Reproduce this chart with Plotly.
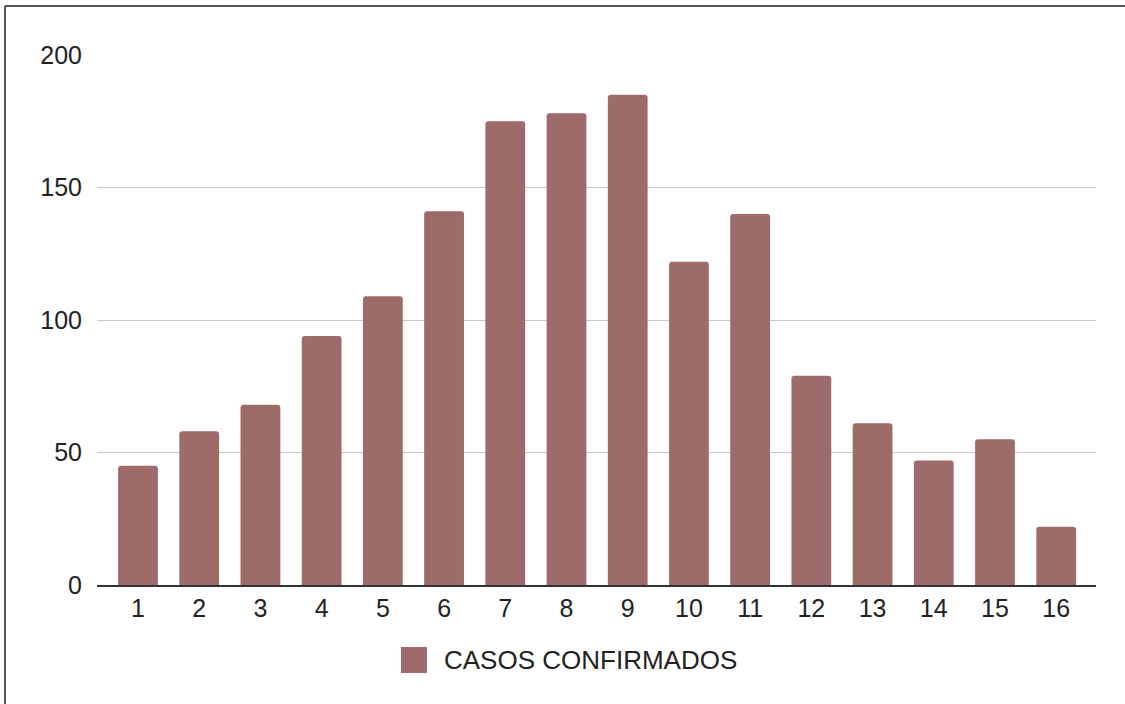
import plotly.graph_objects as go

# Weekly confirmed cases
semanas = list(range(1, 17))
casos = [45, 58, 68, 94, 109, 141, 175, 178, 185, 122, 140, 79, 61, 47, 55, 22]
etiquetas_y = [0, 50, 100, 150, 200]
serie = "CASOS CONFIRMADOS"

COLOR_BARRA = "#9e6b6a"
FUENTE = "Liberation Sans, Arial, sans-serif"

W, H = 1125, 704
ML, MR, MT, MB = 97, 29, 55, 119
PW, PH = W - ML - MR, H - MT - MB


def px_x(p):
    return (p - ML) / PW


def px_y(p):
    return (H - MB - p) / PH


fig = go.Figure()
fig.add_trace(go.Bar(
    x=semanas, y=casos, name=serie,
    marker=dict(color=COLOR_BARRA, line=dict(width=0)),
    width=0.65, showlegend=False,
))

fig.update_layout(
    width=W, height=H,
    margin=dict(l=ML, r=MR, t=MT, b=MB),
    paper_bgcolor="white", plot_bgcolor="white",
    barcornerradius=3,
    font=dict(family=FUENTE, size=25, color="#222222"),
    xaxis=dict(
        range=[0.33, 16.65], tickmode="array", tickvals=semanas,
        ticktext=[str(s) for s in semanas],
        tickfont=dict(family=FUENTE, size=25, color="#222222"),
        showgrid=False, zeroline=False,
        showline=True, linecolor="#333333", linewidth=1.5,
        ticks="", ticklabelstandoff=0,
    ),
    yaxis=dict(
        range=[0, 200], tickmode="array", tickvals=etiquetas_y,
        tickfont=dict(family=FUENTE, size=25, color="#222222"),
        showgrid=True, gridcolor="#c8c8c8", gridwidth=1.3,
        zeroline=False, showline=False, ticks="", ticklabelstandoff=14,
    ),
)

# Outer frame (left and top edges)
fig.add_shape(type="line", xref="paper", yref="paper",
              x0=px_x(5), x1=px_x(5), y0=px_y(6), y1=px_y(H + 5),
              line=dict(color="#555555", width=2))
fig.add_shape(type="line", xref="paper", yref="paper",
              x0=px_x(5), x1=px_x(W + 5), y0=px_y(6), y1=px_y(6),
              line=dict(color="#555555", width=2))

# Legend swatch and label
fig.add_shape(type="rect", xref="paper", yref="paper",
              x0=px_x(401), x1=px_x(427), y0=px_y(673), y1=px_y(647),
              fillcolor=COLOR_BARRA, line=dict(width=0))
fig.add_annotation(xref="paper", yref="paper", x=px_x(442), y=px_y(660),
                   xanchor="left", yanchor="middle", showarrow=False,
                   text=serie, font=dict(family=FUENTE, size=26, color="#222222"))

fig.write_html("out.html")
